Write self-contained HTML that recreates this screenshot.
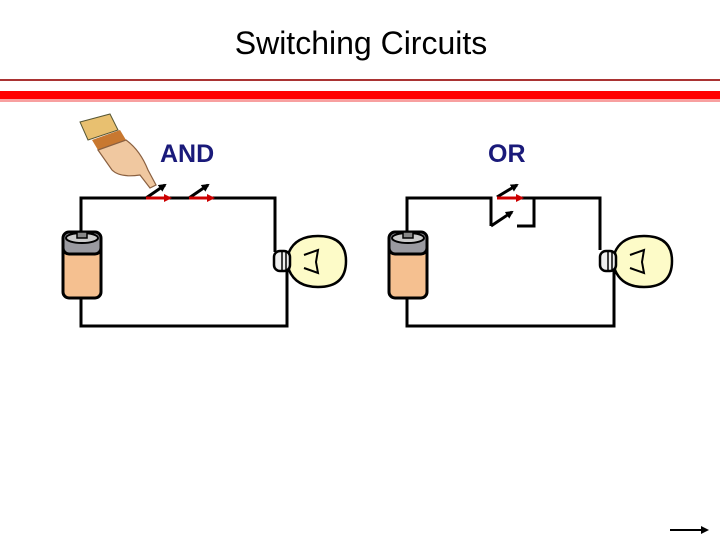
<!DOCTYPE html><html><head><style>body{margin:0;background:#fff}svg{display:block}</style></head><body>
<svg width="720" height="540" viewBox="0 0 720 540" xmlns="http://www.w3.org/2000/svg" font-family="Liberation Sans, sans-serif">
<text x="361" y="54" font-size="32" text-anchor="middle" fill="#000">Switching Circuits</text>
<rect x="0" y="79" width="720" height="2" fill="#a33"/>
<rect x="0" y="91" width="720" height="8" fill="#f00"/>
<rect x="0" y="99" width="720" height="3" fill="#f8a0a0"/>
<text x="160" y="162" font-size="25" font-weight="bold" fill="#1a1a7a">AND</text>
<text x="488" y="162" font-size="25" font-weight="bold" fill="#1a1a7a">OR</text>
<defs>
<g id="bat"><rect x="63" y="240" width="38" height="58" rx="6" fill="#f5c090" stroke="#000" stroke-width="3"/>
<rect x="63" y="232" width="38" height="22" rx="6" fill="#9a9aa0" stroke="#000" stroke-width="3"/>
<ellipse cx="82" cy="238" rx="16" ry="5" fill="#ccc" stroke="#000" stroke-width="2"/><rect x="77" y="232" width="10" height="6" fill="#888" stroke="#000" stroke-width="1.5"/></g>
<g id="bulb"><path d="M289 252 Q296 236 318 236 Q346 236 346 261 Q346 287 318 287 Q296 287 289 270 Z" fill="#fdfbc8" stroke="#000" stroke-width="2.5"/>
<rect x="274" y="251" width="16" height="20" rx="6" fill="#eee" stroke="#000" stroke-width="2.5"/>
<path d="M282 252v18M286 252v18" stroke="#000" stroke-width="1.5"/>
<path d="M304 255 L318 250 L316 262 L318 273 L304 268" fill="none" stroke="#000" stroke-width="2"/></g>
<marker id="ab" markerUnits="userSpaceOnUse" markerWidth="8" markerHeight="8" refX="6" refY="4" orient="auto"><path d="M0 0L8 4L0 8z" fill="#000"/></marker>
<marker id="ar" markerUnits="userSpaceOnUse" markerWidth="8" markerHeight="8" refX="6" refY="4" orient="auto"><path d="M0 0L8 4L0 8z" fill="#c00"/></marker>
</defs>
<g fill="none" stroke="#000" stroke-width="3">
<path d="M81 232V198H146M168 198H189M210 198H275V252"/>
<path d="M81 298V326H287V270"/>
<path d="M407 232V198H491V226M517 226H534V198M520 198H600V250"/>
<path d="M407 298V326H614V270"/>
</g>
<g stroke-width="3">
<path d="M146 198L165 185" stroke="#000" marker-end="url(#ab)"/>
<path d="M189 198L208 185" stroke="#000" marker-end="url(#ab)"/>
<path d="M146 198H170" stroke="#c00" marker-end="url(#ar)"/>
<path d="M189 198H213" stroke="#c00" marker-end="url(#ar)"/>
<path d="M497 197L517 185" stroke="#000" marker-end="url(#ab)"/>
<path d="M491 226L512 212" stroke="#000" marker-end="url(#ab)"/>
<path d="M497 198H522" stroke="#c00" marker-end="url(#ar)"/>
</g>
<use href="#bat"/><use href="#bat" transform="translate(326,0)"/>
<use href="#bulb"/><use href="#bulb" transform="translate(326,0)"/>
<g>
<path d="M80 122 L110 114 L118 130 L88 140 Z" fill="#e8c070" stroke="#553" stroke-width="1"/>
<path d="M92 140 L120 130 L126 140 L98 150 Z" fill="#c87830"/>
<path d="M98 150 L126 140 Q140 150 148 170 L156 185 L150 188 L140 175 Q120 178 112 170 Z" fill="#f0c8a0" stroke="#8a6040" stroke-width="1.2"/>
</g>
<path d="M670 530H707" stroke="#000" stroke-width="2" marker-end="url(#ab)"/>
</svg></body></html>
